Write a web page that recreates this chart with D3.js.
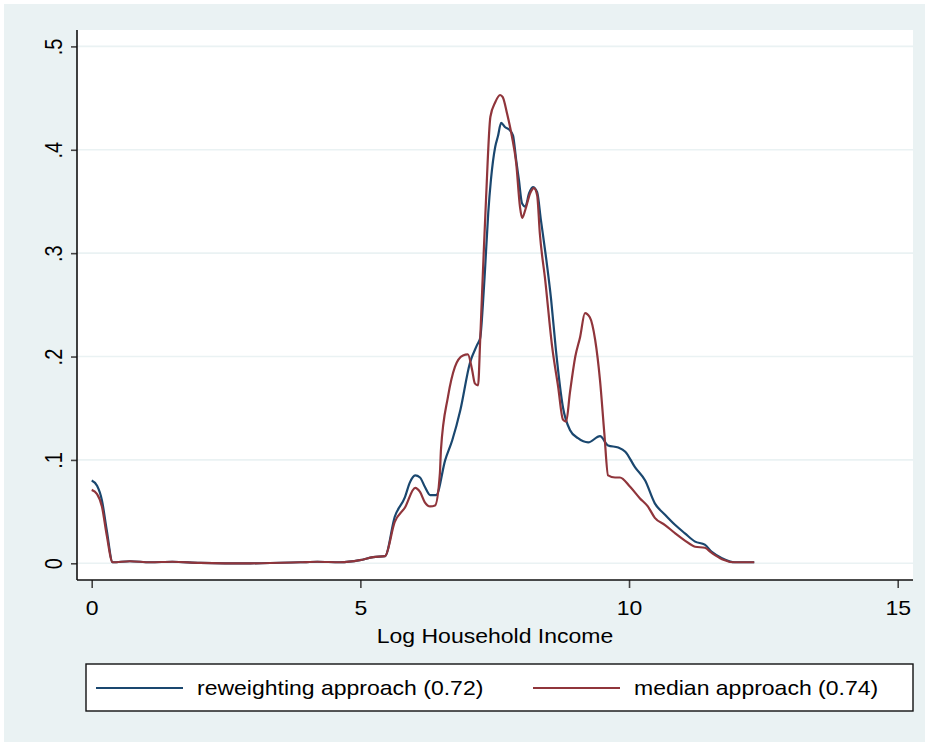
<!DOCTYPE html>
<html>
<head>
<meta charset="utf-8">
<script src="https://cdn.jsdelivr.net/npm/d3@7"></script>
<style>
  body { margin: 0; background: #fff; }
  svg { display: block; font-family: "Liberation Sans", Arial, sans-serif; }
</style>
</head>
<body>
<div id="chart"></div>
<script>
// log household income grid (x) and density estimates for both approaches
const reweightX = [0, 0.10, 0.19, 0.28, 0.39, 0.71, 1.09, 1.5, 2.02, 2.95, 3.88, 4.2, 4.62, 4.99, 5.24, 5.46,
  5.64, 5.83, 5.92, 6.02, 6.11, 6.20, 6.30, 6.41, 6.58, 6.71, 6.86, 7.04, 7.17, 7.23, 7.28, 7.32, 7.38, 7.43,
  7.51, 7.56, 7.62, 7.69, 7.78, 7.84, 7.90, 7.95, 8.01, 8.07, 8.14, 8.21, 8.29, 8.36, 8.45, 8.55, 8.64, 8.77,
  8.90, 9.05, 9.24, 9.46, 9.61, 9.80, 9.93, 10.11, 10.30, 10.48, 10.67, 10.86, 11.04, 11.23, 11.41, 11.54,
  11.73, 11.97, 12.33]
const reweightY = [0.080, 0.075, 0.061, 0.032, 0.001, 0.002, 0.001, 0.0015, 0.0005, 0.0, 0.001, 0.0015, 0.001, 0.003, 0.006, 0.007,
  0.045, 0.064, 0.078, 0.085, 0.083, 0.074, 0.066, 0.066, 0.100, 0.119, 0.148, 0.194, 0.211, 0.218, 0.250, 0.284, 0.339, 0.371,
  0.403, 0.413, 0.426, 0.422, 0.419, 0.414, 0.390, 0.371, 0.348, 0.345, 0.358, 0.364, 0.359, 0.332, 0.298, 0.255, 0.206, 0.151,
  0.129, 0.121, 0.117, 0.123, 0.114, 0.112, 0.108, 0.093, 0.080, 0.058, 0.047, 0.037, 0.029, 0.021, 0.018, 0.011,
  0.005, 0.001, 0.001]

const medianX = [0, 0.10, 0.19, 0.28, 0.39, 0.71, 1.09, 1.5, 2.02, 2.95, 3.88, 4.2, 4.62, 4.99, 5.24, 5.46,
  5.64, 5.83, 6.02, 6.11, 6.20, 6.30, 6.39, 6.48, 6.50, 6.63, 6.76, 6.91, 7.00, 7.08, 7.13, 7.19, 7.23, 7.26,
  7.30, 7.34, 7.42, 7.51, 7.60, 7.65, 7.73, 7.82, 7.90, 7.97, 8.01, 8.07, 8.16, 8.23, 8.29, 8.34, 8.44, 8.57,
  8.68, 8.77, 8.83, 8.90, 9.00, 9.09, 9.18, 9.27, 9.37, 9.46, 9.54, 9.61, 9.74, 9.83, 10.02, 10.20, 10.35,
  10.48, 10.67, 10.86, 11.04, 11.23, 11.41, 11.54, 11.73, 11.97, 12.33]
const medianY = [0.071, 0.067, 0.055, 0.027, 0.001, 0.002, 0.001, 0.0015, 0.0005, 0.0, 0.001, 0.0015, 0.001, 0.003, 0.006, 0.007,
  0.040, 0.054, 0.073, 0.069, 0.059, 0.055, 0.056, 0.087, 0.110, 0.161, 0.190, 0.201, 0.202, 0.187, 0.174, 0.172, 0.216, 0.255,
  0.306, 0.354, 0.432, 0.446, 0.453, 0.451, 0.435, 0.413, 0.387, 0.345, 0.334, 0.342, 0.358, 0.363, 0.356, 0.319, 0.274, 0.209,
  0.171, 0.139, 0.137, 0.165, 0.200, 0.219, 0.242, 0.238, 0.216, 0.177, 0.126, 0.085, 0.083, 0.083, 0.074, 0.063, 0.055,
  0.044, 0.037, 0.029, 0.022, 0.016, 0.015, 0.010, 0.004, 0.001, 0.001]

const yTicks = [0, 0.1, 0.2, 0.3, 0.4, 0.5]
const yTickLabels = ['0', '.1', '.2', '.3', '.4', '.5']
const xTicks = [0, 5, 10, 15]
const seriesNames = ['reweighting approach (0.72)', 'median approach (0.74)']
const seriesColors = ['#1a476f', '#90353b']

const W = 925, H = 742
const plot = { left: 77, top: 30, right: 913, bottom: 580 }
const fontSize = 20
const stretch = 1.15   // the original export is a bit wider than tall

const svg = d3.select('#chart').append('svg')
    .attr('width', W)
    .attr('height', H)

// outer graph region
svg.append('rect')
    .attr('x', 4).attr('y', 4)
    .attr('width', W - 4).attr('height', H - 4)
    .attr('fill', '#eaf2f3')

svg.append('rect')
    .attr('x', plot.left).attr('y', plot.top)
    .attr('width', plot.right - plot.left).attr('height', plot.bottom - plot.top)
    .attr('fill', '#fff')

const x = d3.scaleLinear().domain([0, 15]).range([91.7, 897.7])
const y = d3.scaleLinear().domain([0, 0.5]).range([563.3, 46.4])

// gridlines
svg.append('g').selectAll('line')
  .data(yTicks)
  .enter().append('line')
    .attr('x1', plot.left).attr('x2', plot.right)
    .attr('y1', d => y(d)).attr('y2', d => y(d))
    .attr('stroke', '#eaf2f3')
    .attr('stroke-width', 1.6)

// y axis
const yAxis = svg.append('g')
    .attr('transform', `translate(${plot.left},0)`)
    .call(d3.axisLeft(y).tickValues(yTicks).tickSize(6).tickSizeOuter(0).tickFormat((d, i) => yTickLabels[i]))
yAxis.select('.domain').remove()
yAxis.append('line')
    .attr('x1', 0).attr('x2', 0)
    .attr('y1', plot.top).attr('y2', plot.bottom)
    .attr('stroke', '#111').attr('stroke-width', 1.6)
yAxis.selectAll('.tick line').attr('stroke', '#444').attr('stroke-width', 1.6)
yAxis.selectAll('.tick text')
    .attr('x', null).attr('dy', null)
    .attr('text-anchor', 'middle')
    .attr('transform', `translate(-23,0) scale(${stretch},1) rotate(-90) translate(0,7)`)
    .attr('font-size', fontSize)
    .attr('fill', '#000')
    .style('font-family', '"Liberation Sans", Arial, sans-serif')

// x axis
const xAxis = svg.append('g')
    .attr('transform', `translate(0,${plot.bottom})`)
    .call(d3.axisBottom(x).tickValues(xTicks).tickSize(8).tickSizeOuter(0).tickFormat(d3.format('d')))
xAxis.select('.domain').remove()
xAxis.append('line')
    .attr('x1', plot.left).attr('x2', plot.right)
    .attr('y1', 0).attr('y2', 0)
    .attr('stroke', '#111').attr('stroke-width', 1.6)
xAxis.selectAll('.tick line').attr('stroke', '#444').attr('stroke-width', 1.6)
xAxis.selectAll('.tick text')
    .attr('y', null).attr('dy', null)
    .attr('transform', `translate(0,35) scale(${stretch},1)`)
    .attr('font-size', fontSize)
    .attr('fill', '#000')
    .style('font-family', '"Liberation Sans", Arial, sans-serif')

svg.append('text')
    .attr('transform', `translate(${(plot.left + plot.right) / 2},643) scale(${stretch},1)`)
    .attr('text-anchor', 'middle')
    .attr('font-size', fontSize)
    .text('Log Household Income')

// density lines
const line = d3.line()
    .x(d => x(d[0]))
    .y(d => y(d[1]))
    .curve(d3.curveMonotoneX)

const series = [
  d3.zip(reweightX, reweightY),
  d3.zip(medianX, medianY)
]

svg.append('g').selectAll('path')
  .data(series)
  .enter().append('path')
    .attr('d', line)
    .attr('fill', 'none')
    .attr('stroke', (d, i) => seriesColors[i])
    .attr('stroke-width', 2.2)
    .attr('stroke-linejoin', 'round')

// legend
const legend = svg.append('g')
legend.append('rect')
    .attr('x', 86).attr('y', 664)
    .attr('width', 827).attr('height', 47)
    .attr('fill', '#fff')
    .attr('stroke', '#111')
    .attr('stroke-width', 1.4)

const legendX = [96, 533]
seriesNames.forEach((name, i) => {
  legend.append('line')
      .attr('x1', legendX[i]).attr('x2', legendX[i] + 87)
      .attr('y1', 688).attr('y2', 688)
      .attr('stroke', seriesColors[i])
      .attr('stroke-width', 2.2)
  legend.append('text')
      .attr('transform', `translate(${legendX[i] + 101},695) scale(${stretch},1)`)
      .attr('font-size', fontSize)
      .text(name)
})
</script>
</body>
</html>
